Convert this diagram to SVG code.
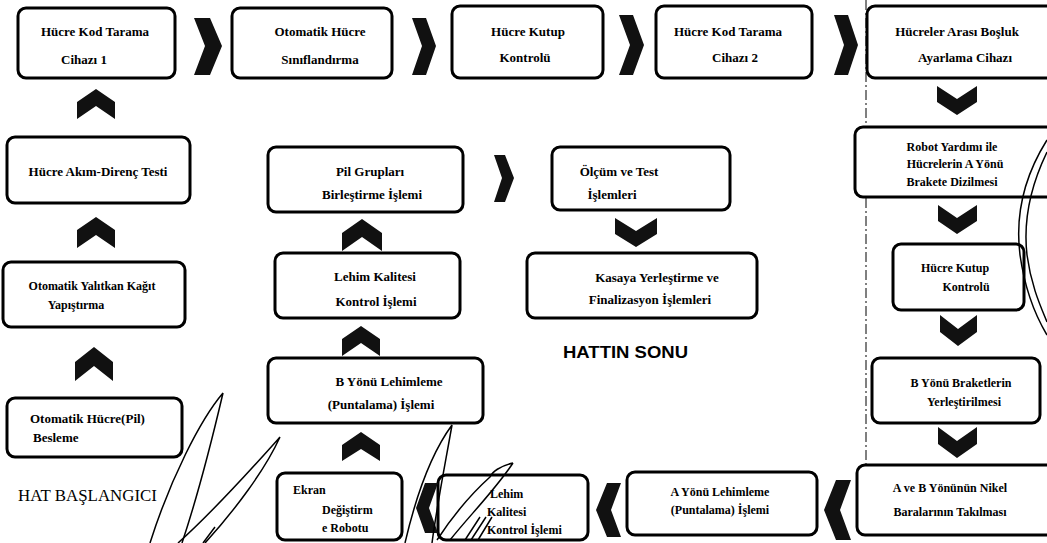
<svg xmlns="http://www.w3.org/2000/svg" width="1047" height="543" viewBox="0 0 1047 543">
<style>
.box{fill:#fff;stroke:#000;stroke-width:3}
.t{font-family:"Liberation Serif",serif;font-weight:bold;font-size:13px;fill:#000;text-anchor:middle}
.s{font-size:12px}
.l{text-anchor:start}
.chev{fill:#111}
.sig{fill:none;stroke:#000;stroke-width:1.5}
.dash{fill:none;stroke:#000;stroke-width:1;stroke-dasharray:10 3 2 3}
</style>
<rect width="1047" height="543" fill="#fff"/>
<line class="dash" x1="866" y1="0" x2="866" y2="470"/>

<g id="n1"><rect class="box" x="18" y="8" width="157" height="70" rx="8"/>
<text class="t" x="95" y="36">Hücre Kod Tarama</text><text class="t" x="84" y="64">Cihazı 1</text></g>
<g id="n2"><rect class="box" x="232" y="8" width="160" height="70" rx="8"/>
<text class="t" x="320" y="36">Otomatik Hücre</text><text class="t" x="320" y="64">Sınıflandırma</text></g>
<g id="n3"><rect class="box" x="452" y="6" width="151" height="72" rx="8"/>
<text class="t" x="528" y="36">Hücre Kutup</text><text class="t" x="525" y="62">Kontrolü</text></g>
<g id="n4"><rect class="box" x="656" y="6" width="156" height="72" rx="8"/>
<text class="t" x="728" y="36">Hücre Kod Tarama</text><text class="t" x="735" y="62">Cihazı 2</text></g>
<g id="n5"><rect class="box" x="867" y="6" width="190" height="72" rx="8"/>
<text class="t" x="957" y="36">Hücreler Arası Boşluk</text><text class="t" x="965" y="62">Ayarlama Cihazı</text></g>
<g id="n6"><rect class="box" x="855" y="127" width="200" height="70" rx="8"/>
<text class="t s" x="952" y="151">Robot Yardımı ile</text><text class="t s" x="955" y="168">Hücrelerin A Yönü</text><text class="t s" x="952" y="186">Brakete Dizilmesi</text></g>
<g id="n7"><rect class="box" x="893" y="244" width="131" height="66" rx="8"/>
<text class="t s" x="955" y="272">Hücre Kutup</text><text class="t s" x="966" y="291">Kontrolü</text></g>
<g id="n8"><rect class="box" x="872" y="358" width="168" height="65" rx="8"/>
<text class="t s" x="961" y="387">B Yönü Braketlerin</text><text class="t s" x="964" y="406">Yerleştirilmesi</text></g>
<g id="n9"><rect class="box" x="857" y="465" width="200" height="70" rx="8"/>
<text class="t s" x="950" y="492">A ve B Yönünün Nikel</text><text class="t s" x="950" y="516">Baralarının Takılması</text></g>
<g id="n10"><rect class="box" x="627" y="472" width="190" height="63" rx="8"/>
<text class="t s" x="720" y="496">A Yönü Lehimleme</text><text class="t s" x="720" y="514">(Puntalama) İşlemi</text></g>
<g id="n11"><rect class="box" x="438" y="475" width="150" height="65" rx="8"/>
<text class="t s l" x="490" y="498">Lehim</text><text class="t s l" x="487" y="516">Kalitesi</text><text class="t s l" x="487" y="534">Kontrol İşlemi</text></g>
<g id="n12"><rect class="box" x="277" y="473" width="125" height="67" rx="8"/>
<text class="t s l" x="293" y="494">Ekran</text><text class="t s l" x="322" y="514">Değiştirm</text><text class="t s l" x="322" y="532">e Robotu</text></g>
<g id="n13"><rect class="box" x="268" y="358" width="215" height="65" rx="8"/>
<text class="t" x="389" y="386">B Yönü Lehimleme</text><text class="t" x="381" y="409">(Puntalama) İşlemi</text></g>
<g id="n14"><rect class="box" x="275" y="253" width="185" height="65" rx="8"/>
<text class="t" x="375" y="281">Lehim Kalitesi</text><text class="t" x="376" y="306">Kontrol İşlemi</text></g>
<g id="n15"><rect class="box" x="268" y="147" width="195" height="65" rx="8"/>
<text class="t" x="370" y="176">Pil Grupları</text><text class="t" x="372" y="199">Birleştirme İşlemi</text></g>
<g id="n16"><rect class="box" x="552" y="147" width="178" height="63" rx="8"/>
<text class="t" x="619" y="176">Ölçüm ve Test</text><text class="t" x="612" y="199">İşlemleri</text></g>
<g id="n17"><rect class="box" x="527" y="253" width="230" height="65" rx="8"/>
<text class="t" x="657" y="282">Kasaya Yerleştirme ve</text><text class="t" x="650" y="304">Finalizasyon İşlemleri</text></g>
<g id="n18"><rect class="box" x="7" y="137" width="183" height="66" rx="8"/>
<text class="t" x="98" y="176">Hücre Akım-Direnç Testi</text></g>
<g id="n19"><rect class="box" x="3" y="262" width="182" height="65" rx="8"/>
<text class="t s" x="92" y="290">Otomatik Yalıtkan Kağıt</text><text class="t s" x="76" y="309">Yapıştırma</text></g>
<g id="n20"><rect class="box" x="7" y="398" width="175" height="59" rx="8"/>
<text class="t l" x="30" y="423">Otomatik Hücre(Pil)</text><text class="t l" x="33" y="442">Besleme</text></g>
<g id="start"><text x="18" y="501" textLength="139" lengthAdjust="spacingAndGlyphs" style="font-family:'Liberation Serif',serif;font-size:17px;fill:#000">HAT BAŞLANGICI</text></g>
<g id="end"><text x="563" y="358" textLength="125" lengthAdjust="spacingAndGlyphs" style="font-family:'Liberation Sans',sans-serif;font-weight:bold;font-size:17px;fill:#000">HATTIN SONU</text></g>

<g id="connectors">
<polygon class="chev" points="194,18 210,18 222,46 210,75 194,75 205,46"/>
<polygon class="chev" points="412,18 426,18 436,46 426,75 412,75 422,46"/>
<polygon class="chev" points="619,15 633,15 644,45 633,75 619,75 630,45"/>
<polygon class="chev" points="834,15 848,15 858,45 848,75 834,75 844,45"/>
<polygon class="chev" points="494,155 505,155 514,178 505,202 494,202 502,178"/>
<polygon class="chev" points="851,480 836,480 824,510 836,540 851,540 840,510"/>
<polygon class="chev" points="621,483 607,483 596,510 607,537 621,537 611,510"/>
<polygon class="chev" points="438,483 425,483 416,508 425,533 438,533 429,508"/>
<polygon class="chev" points="77,102 96,89 115,102 115,119 96,106 77,119"/>
<polygon class="chev" points="77,230 96,217 115,230 115,248 96,235 77,248"/>
<polygon class="chev" points="75,362 94,347 113,362 113,381 94,366 75,381"/>
<polygon class="chev" points="342,233 362,219 382,233 382,251 362,237 342,251"/>
<polygon class="chev" points="342,339 361,326 380,339 380,356 361,343 342,356"/>
<polygon class="chev" points="342,445 361,432 380,445 380,461 361,449 342,461"/>
<polygon class="chev" points="937,86 957,99 977,86 977,102 957,115 937,102"/>
<polygon class="chev" points="938,205 957,218 977,205 977,221 957,234 938,221"/>
<polygon class="chev" points="940,315 958,329 977,315 977,332 958,346 940,332"/>
<polygon class="chev" points="938,427 957,441 977,427 977,444 957,458 938,444"/>
<polygon class="chev" points="615,218 636,231 657,218 657,234 636,247 615,234"/>
</g>

<g id="scribbles">
<path class="sig" d="M150,543 C170,480 200,420 223,393 C212,440 198,495 182,543"/>
<path class="sig" d="M280,437 C255,465 215,510 178,543 M280,437 C265,470 235,510 205,543 M215,527 L203,543"/>
<path class="sig" d="M405,543 C415,500 430,455 452,425 C445,465 437,505 432,543"/>
<path class="sig" d="M513,463 C500,466 492,472 490,477 C470,495 452,517 437,540 M513,463 C495,490 470,515 450,540"/>
<path class="sig" d="M480,517 L465,540 M486,517 L471,540 M492,517 L478,540"/>
<path class="sig" d="M1047,140 C1025,175 1015,215 1020,255 C1025,290 1035,315 1047,335"/>
<path class="sig" d="M1047,152 C1031,185 1023,220 1027,255 C1031,285 1040,305 1047,322"/>
</g>
</svg>
